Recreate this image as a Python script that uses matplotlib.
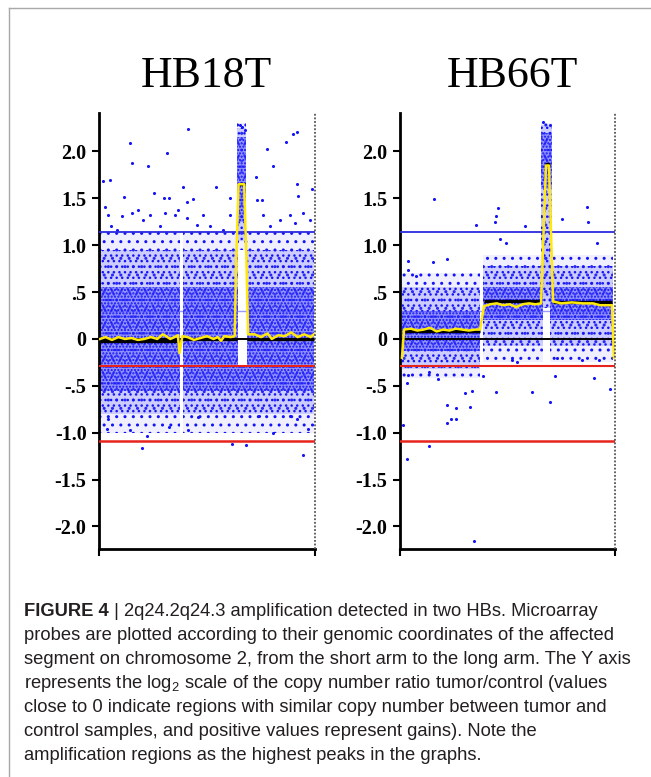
import numpy as np
import matplotlib.pyplot as plt
from matplotlib.lines import Line2D

plt.rcParams['hatch.linewidth'] = 1.0
plt.rcParams['mathtext.fontset'] = 'custom'
plt.rcParams['mathtext.rm'] = 'Liberation Sans'
plt.rcParams['mathtext.default'] = 'regular'

# x = position along the plotted piece of chromosome 2 (0..100, short arm -> long arm)
# y = log2 ratio tumor/control
y_ticks = [2.0, 1.5, 1.0, 0.5, 0.0, -0.5, -1.0, -1.5, -2.0]
y_tick_labels = ['2.0', '1.5', '1.0', '.5', '0', '-.5', '-1.0', '-1.5', '-2.0']

gain_cut = 1.14
low_gain_cut = 0.30
loss_cut = -0.29
deep_loss_cut = -1.09

# probe clouds, one entry per stretch (segments, amplified peak, probes under the peak)
hb18_band_x0 = [0.5, 38.9, 68.6, 63.8, 64.2]
hb18_band_x1 = [37.4, 64.2, 99.5, 68.0, 68.6]
hb18_core_lo = [-0.55, -0.55, -0.55, 1.25, -0.55]
hb18_core_hi = [0.55, 0.55, 0.55, 2.15, -0.30]
hb18_mid_lo = [-0.80, -0.80, -0.80, 1.05, -0.80]
hb18_mid_hi = [0.95, 0.95, 0.95, 2.25, -0.30]
hb18_wide_lo = [-1.00, -1.00, -1.00, 0.95, -1.00]
hb18_wide_hi = [1.15, 1.15, 1.15, 2.30, -0.30]

hb66_band_x0 = [0.9, 38.8, 69.8, 65.5, 66.5]
hb66_band_x1 = [37.2, 66.5, 99.3, 70.5, 69.8]
hb66_core_lo = [-0.13, 0.20, 0.20, 1.60, 0.55]
hb66_core_hi = [0.30, 0.55, 0.55, 2.20, 0.55]
hb66_mid_lo = [-0.32, -0.08, -0.08, 1.00, 0.33]
hb66_mid_hi = [0.55, 0.78, 0.78, 2.28, 1.00]
hb66_wide_lo = [-0.42, -0.25, -0.25, 0.45, 0.33]
hb66_wide_hi = [0.70, 0.90, 0.90, 2.30, 1.00]

# isolated probes
hb18_out_x = [14.4, 15.1, 41.4, 31.3, 22.8, 2.0, 5.1, 77.6, 80.4, 86.6, 89.7, 91.5,
              72.7, 91.5, 98.5, 39.0, 54.0, 25.5, 11.6, 30.2, 32.6, 43.7, 60.6, 75.3,
              92.3, 40.9, 2.8, 4.3, 5.5, 8.2, 10.5, 15.1, 18.2, 20.5, 23.6, 28.2,
              30.6, 35.2, 36.4, 40.6, 45.2, 48.3, 51.4, 57.5, 60.6, 73.0, 76.1, 79.2,
              83.8, 88.4, 90.7, 94.6, 97.7, 65.3, 67.6, 66.2,
              19.8, 22.1, 14.4, 41.0, 61.4, 68.1, 80.4, 94.3, 96.9, 3.9, 32.4, 45.8,
              91.5, 88.4, 74.1, 4.3]
hb18_out_y = [2.09, 1.88, 2.24, 1.98, 1.84, 1.68, 1.70, 2.03, 1.84, 2.10, 2.19, 2.21,
              1.73, 1.65, 1.60, 1.62, 1.62, 1.56, 1.51, 1.50, 1.50, 1.49, 1.50, 1.48,
              1.52, 1.46, 1.41, 1.32, 1.20, 1.16, 1.31, 1.34, 1.38, 1.27, 1.32, 1.20,
              1.34, 1.32, 1.38, 1.29, 1.22, 1.32, 1.20, 1.16, 1.32, 1.48, 1.32, 1.20,
              1.27, 1.32, 1.24, 1.34, 1.27, 2.28, 2.23, 2.26,
              -1.16, -1.04, -0.97, -0.97, -1.12, -1.13, -1.00, -1.24, -0.96, -0.96,
              -0.94, -0.83, -0.85, -0.82, -0.82, -0.85]

hb66_out_x = [15.8, 35.2, 44.5, 45.7, 44.2, 46.5, 49.1, 58.1, 75.5, 86.8, 87.3, 91.5,
              3.9, 3.9, 21.9, 15.2, 7.4, 66.7, 69.8,
              3.4, 3.8, 1.5, 3.4, 13.6, 22.0, 22.0, 23.5, 25.9, 26.0, 30.2, 32.6,
              33.5, 34.4, 44.5, 61.5, 69.8, 72.1, 90.2, 97.7, 38.8, 17.7, 13.6,
              51.9, 54.2, 72.9, 84.5, 92.7]
hb66_out_y = [1.49, 1.22, 1.31, 1.40, 1.25, 1.07, 1.02, 1.20, 1.28, 1.41, 1.25, 1.02,
              0.83, 0.74, 0.85, 0.82, 0.67, 2.31, 2.28,
              -0.47, -0.38, -0.92, -1.28, -1.14, -0.70, -0.90, -0.85, -0.85, -0.74,
              -0.58, -0.73, -0.55, -2.16, -0.57, -0.57, -0.67, -0.39, -0.42, -0.53,
              -0.40, -0.43, -0.35, -0.22, -0.25, -0.20, -0.22, -0.22]

# smoothed trend (yellow)
hb18_trend_x = [0.5, 3, 6, 9, 12, 15, 18, 21, 24, 27, 29.5, 31, 33, 35, 36.5, 37.3,
                38.6, 41, 44, 47, 50, 53, 55, 56.5, 58, 61, 62.8, 63.6, 64.6, 67.2,
                68.2, 69, 72, 75, 78, 80, 83, 86, 89, 92, 95, 98, 99.5]
hb18_trend_y = [0.0, 0.02, -0.01, 0.02, 0.0, 0.01, -0.01, 0.0, 0.02, 0.0, 0.05, 0.03,
                0.0, 0.02, 0.04, -0.15, 0.03, 0.02, -0.01, 0.01, 0.03, 0.0, 0.02,
                -0.02, 0.03, 0.02, 0.03, 0.9, 1.65, 1.65, 0.9, 0.05, 0.05, 0.02, 0.06,
                0.0, 0.04, 0.03, 0.07, 0.02, 0.05, 0.02, 0.05]

hb66_trend_x = [0.9, 1.9, 5, 8, 11, 14, 17, 20, 23, 26, 29, 32, 35, 37.2, 39.1, 42, 45,
                48, 51, 54, 57, 60, 63, 65.6, 67.9, 69.3, 71.2, 75, 80, 85, 89.8, 93,
                96, 98.6, 99.5]
hb66_trend_y = [-0.2, 0.1, 0.11, 0.09, 0.1, 0.12, 0.08, 0.1, 0.09, 0.11, 0.1, 0.09,
                0.1, 0.1, 0.35, 0.37, 0.38, 0.36, 0.37, 0.34, 0.37, 0.38, 0.37, 0.38,
                1.85, 1.85, 0.4, 0.38, 0.39, 0.38, 0.38, 0.36, 0.36, 0.36, -0.2]

# segment calls (black)
hb18_seg_x0 = [0.5, 38.6, 64.6, 68.5]
hb18_seg_x1 = [37.3, 64.0, 67.6, 99.5]
hb18_seg_y = [-0.02, 0.0, 1.65, 0.0]

hb66_seg_x0 = [1.9, 39.1, 67.5, 71.2]
hb66_seg_x1 = [37.2, 65.6, 69.8, 98.6]
hb66_seg_y = [0.08, 0.40, 1.87, 0.39]

dot_blue = '#1414f5'


def draw_panel(ax, bx0, bx1, core_lo, core_hi, mid_lo, mid_hi, wide_lo, wide_hi,
               out_x, out_y, tr_x, tr_y, sx0, sx1, sy):
    ax.axhline(low_gain_cut, color='#9a9aff', lw=1.0, zorder=1)
    for i in range(len(bx0)):
        xs = [bx0[i], bx1[i]]
        ax.fill_between(xs, wide_lo[i], wide_hi[i], facecolor='#6a6aff', alpha=0.1,
                        lw=0, zorder=2)
        ax.fill_between(xs, wide_lo[i], wide_hi[i], facecolor='none',
                        edgecolor=dot_blue, hatch='..', lw=0, zorder=2)
        ax.fill_between(xs, mid_lo[i], mid_hi[i], facecolor='#6a6aff', alpha=0.26,
                        lw=0, zorder=2)
        ax.fill_between(xs, mid_lo[i], mid_hi[i], facecolor='none',
                        edgecolor=dot_blue, hatch='...', lw=0, zorder=2)
        ax.fill_between(xs, core_lo[i], core_hi[i], facecolor='#5a5aff',
                        alpha=0.5, lw=0, zorder=2)
        ax.fill_between(xs, core_lo[i], core_hi[i], facecolor='none',
                        edgecolor=dot_blue, hatch='.....', lw=0, zorder=2)
    ax.scatter(out_x, out_y, s=5, color=dot_blue, lw=0, zorder=3)

    ax.axhline(gain_cut, color='#2a2ae0', lw=1.3, zorder=4)
    ax.axhline(loss_cut, color='#e8231c', lw=1.5, zorder=4)
    ax.axhline(deep_loss_cut, color='#e8231c', lw=1.8, zorder=4)
    ax.axhline(0, color='black', lw=1.4, zorder=4)
    ax.hlines(sy, sx0, sx1, color='black', lw=2.4, zorder=5)
    ax.plot(tr_x, tr_y, color='#ffe80a', lw=1.8, zorder=6)
    ax.axvline(100, color='#555555', lw=1.3, ls=(0, (1, 1)), zorder=6, clip_on=False)

    ax.set_xlim(0, 100)
    ax.set_ylim(-2.24, 2.41)
    ax.set_xticks([0, 100])
    ax.set_xticklabels([])
    ax.set_yticks(y_ticks)
    ax.set_yticklabels(y_tick_labels, fontfamily='Liberation Serif',
                       fontweight='bold', fontsize=14.5)
    ax.tick_params(axis='y', length=5, width=1.5, pad=4, color='black')
    ax.tick_params(axis='x', length=5, width=1.5, direction='out')
    for side in ['top', 'right']:
        ax.spines[side].set_visible(False)
    ax.spines['left'].set_linewidth(2)
    ax.spines['bottom'].set_linewidth(2)


fig = plt.figure(figsize=(6.51, 7.77), dpi=100)

ax1 = fig.add_axes([99 / 651, 228 / 777, 216 / 651, 436 / 777])
ax2 = fig.add_axes([400 / 651, 228 / 777, 215 / 651, 436 / 777])

draw_panel(ax1, hb18_band_x0, hb18_band_x1, hb18_core_lo, hb18_core_hi, hb18_mid_lo,
           hb18_mid_hi, hb18_wide_lo, hb18_wide_hi, hb18_out_x, hb18_out_y,
           hb18_trend_x, hb18_trend_y, hb18_seg_x0, hb18_seg_x1, hb18_seg_y)
draw_panel(ax2, hb66_band_x0, hb66_band_x1, hb66_core_lo, hb66_core_hi, hb66_mid_lo,
           hb66_mid_hi, hb66_wide_lo, hb66_wide_hi, hb66_out_x, hb66_out_y,
           hb66_trend_x, hb66_trend_y, hb66_seg_x0, hb66_seg_x1, hb66_seg_y)

fig.text(206 / 651, 1 - 87 / 777, 'HB18T', ha='center', va='baseline',
         fontfamily='Liberation Serif', fontsize=31.5)
fig.text(512 / 651, 1 - 87 / 777, 'HB66T', ha='center', va='baseline',
         fontfamily='Liberation Serif', fontsize=31.5)

# frame round the figure
fig.add_artist(Line2D([9 / 651, 1], [1 - 8 / 777, 1 - 8 / 777], color='#a8a8a8', lw=1.0))
fig.add_artist(Line2D([9 / 651, 9 / 651], [0, 1 - 8 / 777], color='#a8a8a8', lw=1.0))

# caption
cap_font = dict(fontfamily='Liberation Sans', fontsize=13.2, color='#231f20', va='baseline')
caption_lines = [
    ' | 2q24.2q24.3 amplification detected in two HBs. Microarray',
    'probes are plotted according to their genomic coordinates of the affected',
    'segment on chromosome 2, from the short arm to the long arm. The Y axis',
    'represents the log$_2$ scale of the copy number ratio tumor/control (values',
    'close to 0 indicate regions with similar copy number between tumor and',
    'control samples, and positive values represent gains). Note the',
    'amplification regions as the highest peaks in the graphs.',
]
x_cap = 24 / 651
head = fig.text(x_cap, 1 - 616 / 777, 'FIGURE 4', fontweight='bold', **cap_font)
renderer = fig.canvas.get_renderer()
bb = head.get_window_extent(renderer)
fig.text(bb.x1 / fig.bbox.width, 1 - 616 / 777, caption_lines[0], **cap_font)
for i, line in enumerate(caption_lines[1:]):
    fig.text(x_cap, 1 - (616 + 24 * (i + 1)) / 777, line, **cap_font)

fig.savefig('out.png', dpi=100)
